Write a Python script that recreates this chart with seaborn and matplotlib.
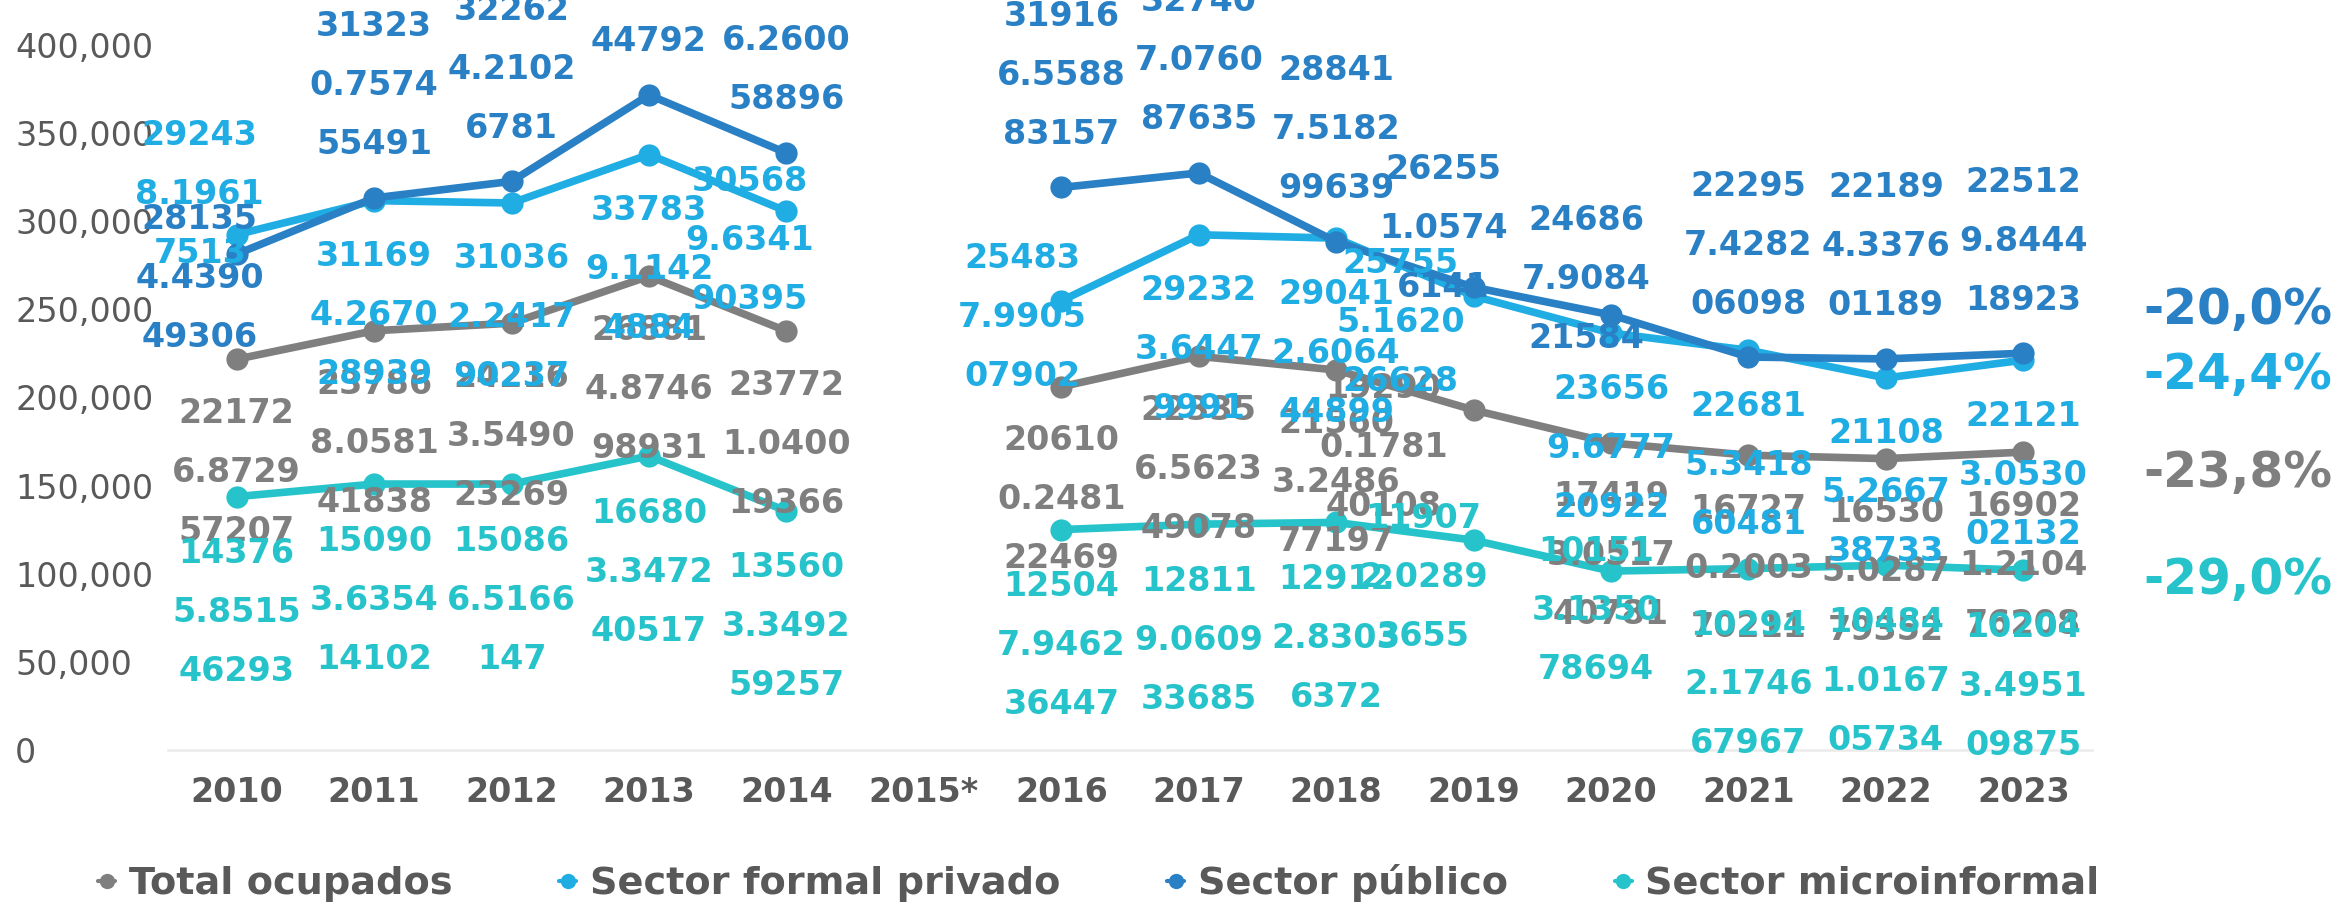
import matplotlib
matplotlib.use("Agg")
import matplotlib.pyplot as plt
import seaborn as sns
import pandas as pd
from matplotlib.lines import Line2D

# ---------------- data ----------------
years = ["2010", "2011", "2012", "2013", "2014", "2015*", "2016",
         "2017", "2018", "2019", "2020", "2021", "2022", "2023"]

series_names = ["Total ocupados", "Sector formal privado",
                "Sector público", "Sector microinformal"]

total_ocupados = ["221726.872957207", "237868.058141838", "242163.549023269",
                  "268814.874698931", "237721.040019366", None,
                  "206100.248122469", "223356.562349078", "215603.248677197",
                  "192900.178140108", "174193.051740781", "167270.200370211",
                  "165305.028779352", "169021.210476208"]

sector_formal_privado = ["292438.19617513", "311694.267028939", "310362.241790237",
                         "337839.11424884", "305689.634190395", None,
                         "254837.990507902", "292323.64479991", "290412.606444899",
                         "257555.162026628", "236569.677720922", "226815.341860481",
                         "211085.266738733", "221213.053002132"]

sector_publico = ["281354.439049306", "313230.757455491", "322624.21026781",
                  "371654.871244792", "338746.260058896", None,
                  "319166.558883157", "327407.076087635", "288417.518299639",
                  "262551.05746141", "246867.908421584", "222957.428206098",
                  "221894.337601189", "225129.844418923"]

sector_microinformal = ["143765.851546293", "150903.635414102", "150866.5166147",
                        "166803.347240517", "135603.349259257", None,
                        "125047.946236447", "128119.060933685", "129122.83036372",
                        "119072.02893655", "101513.135078694", "102942.174667967",
                        "104841.016705734", "102043.495109875"]

variation_labels = ["-20,0%", "-24,4%", "-23,8%", "-29,0%"]
variation_series = ["Sector público", "Sector formal privado",
                    "Total ocupados", "Sector microinformal"]

# ---------------- style ----------------
colors = {"Total ocupados": "#7F7F7F",
          "Sector formal privado": "#1FADE4",
          "Sector público": "#2A80C5",
          "Sector microinformal": "#27C3CB"}
text_gray = "#595959"

sns.set_theme(style="white")
plt.rcParams["font.family"] = ["DejaVu Sans"]

# label placement (pixels, + = up)
default_dy = {"Total ocupados": -113, "Sector formal privado": -115,
              "Sector público": 112, "Sector microinformal": -116}
label_override = {
    ("Sector público", "2010"): (-37, -24),
    ("Sector formal privado", "2010"): (-37, 40),
    ("Sector formal privado", "2014"): (-37, -29),
    ("Sector formal privado", "2016"): (-39, -17),
    ("Sector público", "2019"): (-30, 59),
    ("Sector formal privado", "2019"): (-73, -26),
    ("Total ocupados", "2019"): (-90, -37),
    ("Sector microinformal", "2019"): (-50, -37),
    ("Sector público", "2020"): (-25, 35),
    ("Sector microinformal", "2020"): (-15, -39),
}

# ---------------- long data frame ----------------
series_values = {"Total ocupados": total_ocupados,
                 "Sector formal privado": sector_formal_privado,
                 "Sector público": sector_publico,
                 "Sector microinformal": sector_microinformal}
rows = []
for name in series_names:
    seg = 0
    for i, (yr, v) in enumerate(zip(years, series_values[name])):
        if v is None:
            seg += 1
            continue
        rows.append(dict(serie=name, pos=i, year=yr, valor=float(v), seg=seg, label=v))
df = pd.DataFrame(rows)

W, H = 2344, 907
fig = plt.figure(figsize=(W / 100, H / 100), dpi=100)
ax = fig.add_axes([168 / W, 1 - 750 / H, (2092 - 168) / W, (750 - 45) / H])

sns.lineplot(data=df, x="pos", y="valor", hue="serie", hue_order=series_names,
             units="seg", estimator=None, palette=colors, marker="o",
             markersize=16, markeredgewidth=0, linewidth=5.5, legend=False,
             ax=ax, zorder=3)

ax.set_xlim(-0.5, len(years) - 0.5)
ax.set_ylim(0, 400000)
ax.set_xlabel("")
ax.set_ylabel("")
ax.grid(False)

# data labels
def wrap(s):
    parts = [s[:5], s[5:11]]
    if len(s) > 11:
        parts.append(s[11:])
    return "\n".join(parts)

for _, r in df.iterrows():
    dx, dy = label_override.get((r["serie"], r["year"]), (0, default_dy[r["serie"]]))
    ax.annotate(wrap(r["label"]), (r["pos"], r["valor"]), xytext=(dx, dy),
                textcoords="offset pixels", ha="center", va="center",
                fontsize=24, fontweight="bold", color=colors[r["serie"]],
                linespacing=2.0, zorder=5, annotation_clip=False)

# axes
ax.set_yticks(range(0, 400001, 50000))
ax.set_yticklabels([f"{v:,}" for v in range(0, 400001, 50000)])
ax.tick_params(axis="y", length=0, pad=110, labelsize=24, labelcolor=text_gray)
for lbl in ax.get_yticklabels():
    lbl.set_horizontalalignment("left")
ax.set_xticks(range(len(years)))
ax.set_xticklabels(years, fontweight="bold")
ax.tick_params(axis="x", length=0, pad=19, labelsize=24, labelcolor=text_gray)
for s in ["left", "right", "top"]:
    ax.spines[s].set_visible(False)
ax.spines["bottom"].set_color("#EBEBEB")
ax.spines["bottom"].set_linewidth(1.8)

# variation labels on the right
var_y = [310, 375, 473, 580]
for txt, name, yy in zip(variation_labels, variation_series, var_y):
    fig.text(2143 / W, 1 - yy / H, txt, color=colors[name], fontsize=35,
             fontweight="bold", ha="left", va="center")

# legend
handles = [Line2D([0], [0], color=colors[n], marker="o", markersize=11,
                  linewidth=3, markeredgewidth=0) for n in series_names]
leg = fig.legend(handles, series_names, loc="center left",
                 bbox_to_anchor=(98 / W, 1 - 883 / H), ncol=4, frameon=False,
                 handlelength=0.45, handletextpad=0.35, columnspacing=2.8,
                 borderpad=0, borderaxespad=0,
                 prop=dict(size=27.5, weight="bold"))
for t in leg.get_texts():
    t.set_color(text_gray)

fig.savefig("out.png", dpi=100)
